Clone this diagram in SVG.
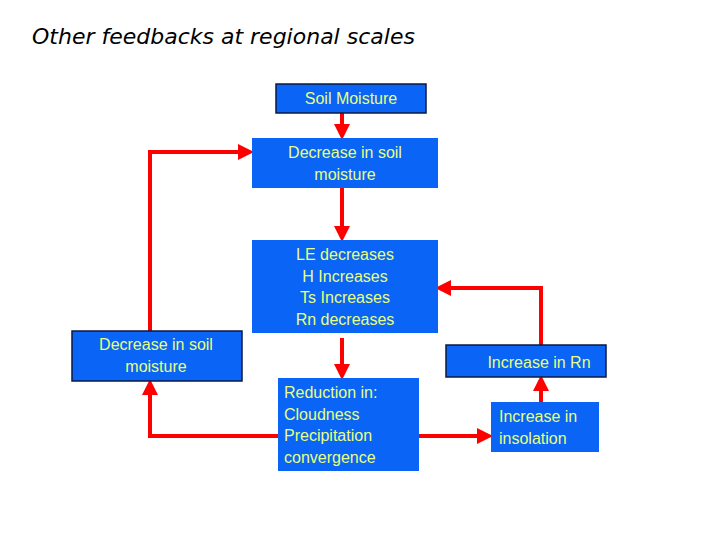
<svg xmlns="http://www.w3.org/2000/svg" width="720" height="540" viewBox="0 0 720 540">
<style>
.b{fill:#0a64f5}
.k{stroke:#0a1a40;stroke-width:1.5}
.t{font-family:"Liberation Sans",Arial,sans-serif;font-size:16px;fill:#e8ff80}
.c{stroke:#f00;stroke-width:4;fill:none}
</style>
<defs><marker id="a" markerWidth="4" markerHeight="4" refX="3" refY="2" orient="auto"><path d="M0,0L4,2L0,4z" fill="#f00"/></marker></defs>
<rect width="720" height="540" fill="#fff"/>
<text x="32" y="44" font-family="'DejaVu Sans',sans-serif" font-style="italic" font-size="22" fill="#000">Other feedbacks at regional scales</text>
<g id="connectors">
<path class="c" d="M342,113V136" marker-end="url(#a)"/>
<path class="c" d="M342,188V238" marker-end="url(#a)"/>
<path class="c" d="M342,338V376" marker-end="url(#a)"/>
<path class="c" d="M278,436H150V383" marker-end="url(#a)"/>
<path class="c" d="M150,331V152H250" marker-end="url(#a)"/>
<path class="c" d="M419,436H489" marker-end="url(#a)"/>
<path class="c" d="M541,402V379" marker-end="url(#a)"/>
<path class="c" d="M541,345V288H439" marker-end="url(#a)"/>
</g>
<g id="n1"><rect class="b k" x="276" y="84" width="150" height="29"/><text class="t" x="351" y="104" text-anchor="middle">Soil Moisture</text></g>
<g id="n2"><rect class="b" x="252" y="138" width="186" height="50"/><text class="t" text-anchor="middle"><tspan x="345" y="158">Decrease in soil</tspan><tspan x="345" y="180">moisture</tspan></text></g>
<g id="n3"><rect class="b" x="252" y="240" width="186" height="93"/><text class="t" text-anchor="middle"><tspan x="345" y="260">LE decreases</tspan><tspan x="345" y="282">H Increases</tspan><tspan x="345" y="303">Ts Increases</tspan><tspan x="345" y="325">Rn decreases</tspan></text></g>
<g id="n4"><rect class="b k" x="72" y="331" width="170" height="50"/><text class="t" text-anchor="middle"><tspan x="156" y="350">Decrease in soil</tspan><tspan x="156" y="372">moisture</tspan></text></g>
<g id="n5"><rect class="b" x="278" y="378" width="141" height="93"/><text class="t"><tspan x="284" y="398">Reduction in:</tspan><tspan x="284" y="420">Cloudness</tspan><tspan x="284" y="441">Precipitation</tspan><tspan x="284" y="463">convergence</tspan></text></g>
<g id="n6"><rect class="b k" x="446" y="345" width="160" height="32"/><text class="t" x="539" y="368" text-anchor="middle">Increase in Rn</text></g>
<g id="n7"><rect class="b" x="491" y="402" width="108" height="50"/><text class="t"><tspan x="499" y="422">Increase in</tspan><tspan x="499" y="444">insolation</tspan></text></g>
</svg>
